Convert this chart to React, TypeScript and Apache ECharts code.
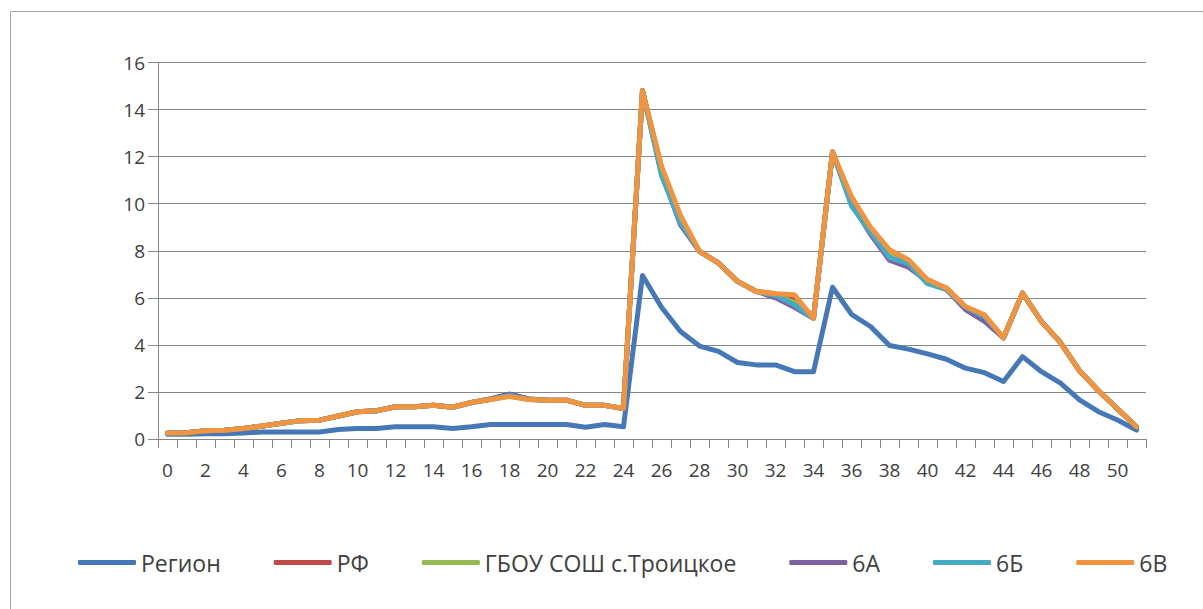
import React, { useEffect, useRef } from "react";
import * as echarts from "echarts";

const categories = [
  "0","1","2","3","4","5","6","7","8","9","10","11","12","13","14","15","16","17","18","19","20",
  "21","22","23","24","25","26","27","28","29","30","31","32","33","34","35","36","37","38","39","40",
  "41","42","43","44","45","46","47","48","49","50","51",
];

const region = [
  0.2, 0.2, 0.22, 0.22, 0.25, 0.3, 0.3, 0.3, 0.3, 0.4, 0.45, 0.45, 0.52, 0.52, 0.52, 0.45, 0.52, 0.62,
  0.62, 0.62, 0.62, 0.62, 0.5, 0.62, 0.52, 6.95, 5.6, 4.57, 3.95, 3.72, 3.25, 3.15, 3.15, 2.86, 2.86,
  6.45, 5.3, 4.78, 3.97, 3.82, 3.62, 3.39, 3.01, 2.82, 2.44, 3.5, 2.86, 2.37, 1.66, 1.16, 0.81, 0.38,
];

const rf = [
  0.25, 0.27, 0.35, 0.37, 0.45, 0.55, 0.67, 0.78, 0.8, 0.98, 1.16, 1.2, 1.37, 1.37, 1.43, 1.35, 1.55, 1.7,
  1.9, 1.7, 1.65, 1.65, 1.43, 1.43, 1.3, 14.8, 11.5, 9.3, 7.97, 7.48, 6.7, 6.27, 6.17, 5.9, 5.13,
  12.2, 10.1, 8.9, 7.8, 7.5, 6.77, 6.41, 5.6, 5.2, 4.3, 6.2, 4.99, 4.1, 2.9, 2.05, 1.28, 0.52,
];

const school = [
  0.25, 0.27, 0.35, 0.37, 0.45, 0.55, 0.67, 0.78, 0.8, 0.98, 1.16, 1.2, 1.37, 1.37, 1.43, 1.35, 1.55, 1.7,
  1.85, 1.7, 1.65, 1.65, 1.43, 1.43, 1.3, 14.8, 11.4, 9.2, 7.97, 7.48, 6.7, 6.27, 6.1, 5.8, 5.13,
  12.2, 10.0, 8.8, 7.8, 7.4, 6.7, 6.41, 5.6, 5.2, 4.3, 6.2, 4.99, 4.1, 2.9, 2.05, 1.28, 0.52,
];

const cls6A = [
  0.25, 0.27, 0.35, 0.37, 0.45, 0.55, 0.67, 0.78, 0.8, 0.98, 1.16, 1.2, 1.37, 1.37, 1.43, 1.35, 1.55, 1.7,
  1.9, 1.7, 1.65, 1.65, 1.43, 1.43, 1.3, 14.8, 11.3, 9.1, 7.97, 7.48, 6.7, 6.27, 6.0, 5.6, 5.13,
  12.2, 10.0, 8.7, 7.6, 7.3, 6.7, 6.35, 5.5, 5.0, 4.3, 6.2, 4.99, 4.1, 2.9, 2.05, 1.28, 0.52,
];

const cls6B = [
  0.25, 0.27, 0.35, 0.37, 0.45, 0.55, 0.67, 0.78, 0.8, 0.98, 1.16, 1.2, 1.37, 1.37, 1.43, 1.35, 1.55, 1.68,
  1.85, 1.68, 1.65, 1.65, 1.43, 1.43, 1.3, 14.8, 11.2, 9.2, 7.97, 7.48, 6.7, 6.27, 6.1, 5.7, 5.13,
  12.2, 9.9, 8.8, 7.7, 7.45, 6.6, 6.35, 5.6, 5.2, 4.3, 6.2, 4.99, 4.1, 2.9, 2.05, 1.28, 0.52,
];

const cls6V = [
  0.25, 0.27, 0.35, 0.37, 0.45, 0.55, 0.67, 0.78, 0.8, 0.98, 1.16, 1.2, 1.37, 1.37, 1.43, 1.35, 1.55, 1.68,
  1.8, 1.68, 1.65, 1.65, 1.43, 1.43, 1.3, 14.8, 11.6, 9.5, 7.97, 7.48, 6.7, 6.27, 6.17, 6.13, 5.13,
  12.2, 10.3, 9.0, 8.04, 7.62, 6.77, 6.41, 5.63, 5.28, 4.3, 6.2, 4.99, 4.1, 2.9, 2.05, 1.28, 0.52,
];

const seriesNames = ["Регион", "РФ", "ГБОУ СОШ с.Троицкое", "6А", "6Б", "6В"];
const seriesData = [region, rf, school, cls6A, cls6B, cls6V];
const colors = ["#4678b8", "#be4b48", "#98b954", "#7d60a0", "#46aac5", "#f09440"];

export default function App() {
  const ref = useRef<HTMLDivElement>(null);

  useEffect(() => {
    if (!ref.current) return;
    const chart = echarts.init(ref.current, undefined, { renderer: "svg" });
    const font = "'Open Sans', sans-serif";
    chart.setOption({
      animation: false,
      backgroundColor: "#ffffff",
      color: colors,
      graphic: [
        {
          type: "rect",
          shape: { x: 10.5, y: 11.5, width: 1300, height: 700 },
          style: { fill: "none", stroke: "#a6a6a6", lineWidth: 1 },
          silent: true,
          z: -1,
        },
      ],
      grid: { left: 158, right: 57, top: 62.5, bottom: 170, containLabel: false },
      legend: {
        data: seriesNames,
        left: 73,
        top: 546,
        itemWidth: 58,
        itemHeight: 5,
        itemGap: 53,
        icon: "roundRect",
        textStyle: { fontFamily: font, fontSize: 23, color: "#404040" },
      },
      xAxis: {
        type: "category",
        data: categories,
        boundaryGap: true,
        axisLine: { lineStyle: { color: "#868686", width: 1 } },
        axisTick: { show: true, interval: 0, length: 9, lineStyle: { color: "#868686" } },
        axisLabel: {
          interval: 1,
          margin: 21,
          fontFamily: font,
          fontSize: 19,
          color: "#404040",
        },
        splitLine: { show: false },
      },
      yAxis: {
        type: "value",
        min: 0,
        max: 16,
        interval: 2,
        axisLine: { show: true, lineStyle: { color: "#868686", width: 1 } },
        axisTick: { show: true, length: 10, lineStyle: { color: "#868686" } },
        axisLabel: { margin: 13, fontFamily: font, fontSize: 19, color: "#404040" },
        splitLine: { show: true, lineStyle: { color: "#868686", width: 1 } },
      },
      series: seriesNames.map((name, i) => ({
        name,
        type: "line",
        data: seriesData[i],
        showSymbol: false,
        symbol: "none",
        lineStyle: { width: 5, color: colors[i], join: "round", cap: "round" },
        itemStyle: { color: colors[i] },
        z: 2 + i,
      })),
    });
    return () => chart.dispose();
  }, []);

  return (
    <div
      ref={ref}
      style={{ position: "fixed", left: 0, top: 0, width: 1203, height: 609 }}
    />
  );
}
